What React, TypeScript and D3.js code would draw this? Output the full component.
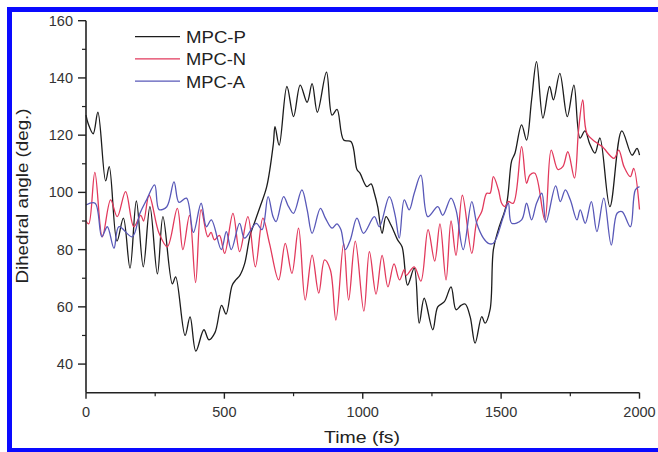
import React from "react";
import * as d3 from "d3";

const xTicks = [0, 500, 1000, 1500, 2000];
const yTicks = [40, 60, 80, 100, 120, 140, 160];
const seriesNames = ["MPC-P", "MPC-N", "MPC-A"];

const pTime = [0,8,26,43,71,84,112,135,159,182,207,231,258,278,312,324,358,376,397,426,444,466,490,506,528,542,556,573,593,611,629,653,677,683,698,726,750,774,799,817,836,869,889,907,931,958,979,990,1015,1030,1042,1054,1070,1084,1102,1126,1142,1162,1186,1204,1222,1253,1271,1295,1319,1337,1355,1370,1388,1406,1430,1442,1460,1472,1490,1520,1538,1550,1574,1592,1610,1628,1651,1675,1689,1712,1739,1763,1785,1803,1820,1839,1857,1893,1936,1973,1991,2000];
const pAngle = [127,124,120.5,128,104,109,83,91,73.5,97,74,95,71.5,91.5,68,70.5,50,56.5,44.5,52,48.5,51,60.5,57.5,67.5,69.5,71,75,85,90,95,102,117,123,116.5,137,126.5,137.5,131.5,138,128,142,127,129,118.3,117.7,108,106.7,102,103,99.7,95,85.7,91.5,88.6,83.4,81,67.6,73.5,54.3,63,52,60,61.8,67,59,60.5,61,56.6,47.3,56.6,54.3,59,80,87,96,111,113.7,123.6,118.3,132.3,145.7,126,137,132.3,141.6,126.5,137.5,119,121.5,117,113.7,119,95,121.5,113,115.4,113];

const nTime = [0,10,32,59,89,113,143,173,198,208,228,264,294,330,350,374,396,416,440,452,464,482,501,531,555,585,612,639,663,696,720,744,768,792,817,841,862,883,903,931,949,973,1004,1024,1048,1070,1091,1113,1133,1150,1157,1186,1210,1236,1260,1279,1301,1319,1337,1360,1394,1412,1430,1448,1460,1472,1490,1502,1514,1526,1544,1574,1592,1604,1622,1658,1681,1705,1723,1741,1765,1780,1795,1810,1840,1865,1908,1925,1944,1967,1979,2000];
const nAngle = [90,89,107,84.5,97.4,91.5,100.3,88,92,90,99,85.7,81,94.4,80,92,68.5,94,84.5,86,83.4,85,78.7,92.7,79.3,91.5,74,91,82.2,69.4,82.2,71.7,87.5,62.4,78.1,64.8,76.4,72.9,55.4,82.2,62.4,83,58.5,79.3,64.5,78,67,75,69.4,73,71,74,69,87,76,89,69.4,90,78,99,78.7,89.8,93.3,99.7,99.7,105.5,101,96.2,95,96.8,96.2,116,103.2,106.1,106.7,90.4,114.8,108,109,114.2,105,122,132.3,120.6,117.7,116,111.9,114.8,109,105.5,108.4,94];

const aTime = [0,33,57,77,101,119,167,195,219,248,264,292,318,336,363,388,416,435,453,489,507,525,555,573,615,636,658,676,687,714,732,750,780,799,817,847,865,889,907,921,937,955,979,1003,1042,1060,1096,1117,1132,1150,1168,1186,1210,1235,1271,1289,1319,1337,1363,1394,1412,1436,1454,1472,1508,1526,1538,1574,1592,1610,1628,1647,1662,1697,1714,1732,1750,1774,1786,1804,1826,1846,1871,1898,1919,1937,1967,1985,2000];
const aAngle = [95.6,96.2,84.5,88,80.5,88,84.5,92.7,97.4,102.6,94,95,103.7,96.5,98,86,96.2,88,90.4,80,86.3,80,89.2,84,89.2,87,98.5,91.5,89.8,98.5,95,92.7,100.9,94,85.7,94.4,91,87.5,89,87,80,83.4,91,85.7,91.5,88,98.5,92,84,97.4,93.9,99.7,106,91.5,95,92,98,93.9,80,96.8,89.2,84,82.2,82.2,91.5,96.2,89.2,90.4,96.2,90.4,96.2,99.7,89.5,102.3,96.8,100.9,97.4,90.4,93.9,89.2,96.8,86.3,98,81.6,92.7,93.3,88,100.9,102];

const W = 658;
const H = 452;
const FONT = "'Liberation Sans', Arial, Helvetica, sans-serif";
const colors = ["#1c1c1c", "#e2395c", "#5858b8"];

export default function App() {
  const x = d3.scaleLinear().domain([0, 2000]).range([86, 639.5]);
  const y = d3.scaleLinear().domain([30, 160]).range([392.7, 20.7]);

  const line = d3
    .line<[number, number]>()
    .x((d) => x(d[0]))
    .y((d) => y(d[1]))
    .curve(d3.curveCatmullRom.alpha(0.5));

  const series = [
    pTime.map((t, i) => [t, pAngle[i]] as [number, number]),
    nTime.map((t, i) => [t, nAngle[i]] as [number, number]),
    aTime.map((t, i) => [t, aAngle[i]] as [number, number]),
  ];

  const yMinor = d3.range(50, 160, 20);
  const xMinor = d3.range(250, 2000, 500);
  const axisColor = "#222";

  return (
    <svg
      width={W}
      height={H}
      style={{ position: "fixed", left: 0, top: 0, background: "#fff" }}
    >
      <rect x={0} y={0} width={W} height={H} fill="#fff" />
      {[0, 1, 2].map((i) => (
        <path
          key={i}
          d={line(series[i]) || ""}
          fill="none"
          stroke={colors[i]}
          strokeWidth={1.3}
          strokeLinejoin="round"
        />
      ))}

      {/* Y axis */}
      <line x1={x(0)} x2={x(0)} y1={y(160)} y2={y(30)} stroke={axisColor} strokeWidth={1.6} />
      {yTicks.map((t) => (
        <g key={"yt" + t}>
          <line x1={x(0) - 8} x2={x(0)} y1={y(t)} y2={y(t)} stroke={axisColor} strokeWidth={1.4} />
          <text
            x={x(0) - 13}
            y={y(t) + 5}
            textAnchor="end"
            fontFamily={FONT}
            fontSize={14.5}
            fill="#333"
          >
            {t}
          </text>
        </g>
      ))}
      {yMinor.map((t) => (
        <line key={"ym" + t} x1={x(0) - 4} x2={x(0)} y1={y(t)} y2={y(t)} stroke={axisColor} strokeWidth={1.2} />
      ))}

      {/* X axis */}
      <line x1={x(0)} x2={x(2000)} y1={y(30)} y2={y(30)} stroke={axisColor} strokeWidth={1.6} />
      {xTicks.map((t) => (
        <g key={"xt" + t}>
          <line x1={x(t)} x2={x(t)} y1={y(30)} y2={y(30) + 6} stroke={axisColor} strokeWidth={1.4} />
          <text
            x={x(t)}
            y={y(30) + 24}
            textAnchor="middle"
            fontFamily={FONT}
            fontSize={14.5}
            fill="#333"
          >
            {t}
          </text>
        </g>
      ))}
      {xMinor.map((t) => (
        <line key={"xm" + t} x1={x(t)} x2={x(t)} y1={y(30)} y2={y(30) + 3.5} stroke={axisColor} strokeWidth={1.2} />
      ))}

      {/* Axis titles */}
      <text
        x={362}
        y={443}
        textAnchor="middle"
        fontFamily={FONT}
        fontSize={17}
        fill="#222"
        textLength={76}
        lengthAdjust="spacingAndGlyphs"
      >
        Time (fs)
      </text>
      <text
        transform="translate(28,196) rotate(-90)"
        textAnchor="middle"
        fontFamily={FONT}
        fontSize={16}
        fill="#222"
        textLength={175}
        lengthAdjust="spacingAndGlyphs"
      >
        Dihedral angle (deg.)
      </text>

      {/* Legend */}
      {seriesNames.map((name, i) => {
        const ly = 36.7 + i * 22.2;
        return (
          <g key={name}>
            <line x1={135} x2={180} y1={ly} y2={ly} stroke={colors[i]} strokeWidth={1.3} />
            <text
              x={186}
              y={ly + 6.5}
              fontFamily={FONT}
              fontSize={16}
              fill="#222"
              textLength={name === "MPC-A" ? 59 : 60}
              lengthAdjust="spacingAndGlyphs"
            >
              {name}
            </text>
          </g>
        );
      })}

      {/* Blue frame */}
      <rect x={9.5} y={9.5} width={660} height={441} fill="none" stroke="#0a0aff" strokeWidth={5} />
    </svg>
  );
}
